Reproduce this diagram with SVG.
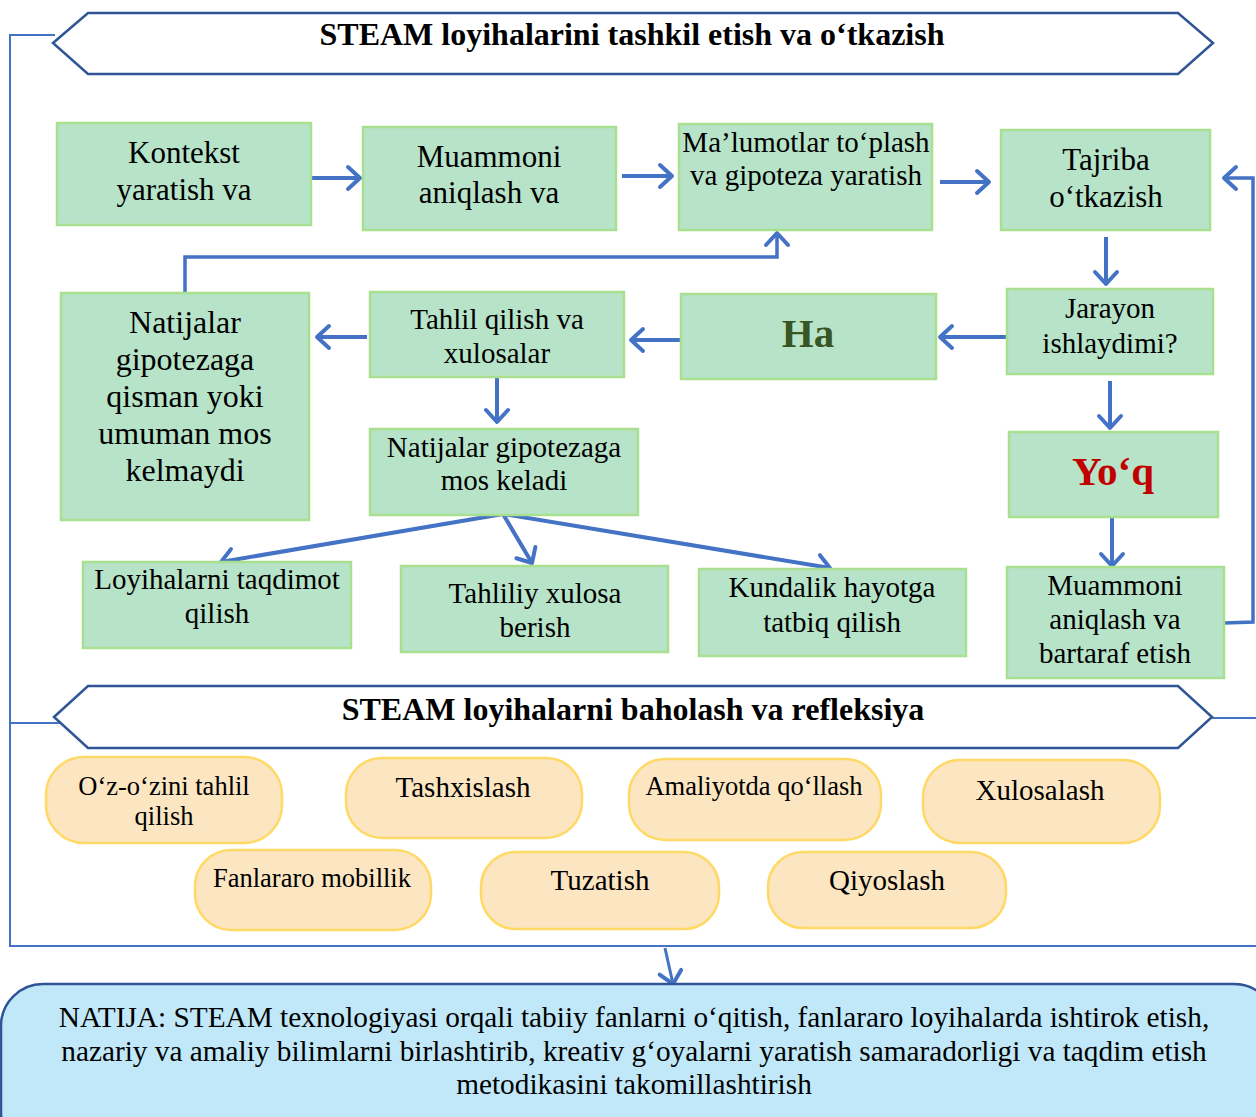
<svg xmlns="http://www.w3.org/2000/svg" width="1256" height="1117" viewBox="0 0 1256 1117">
<defs>
<style>
.box{fill:#B7E3C9;stroke:#A9E08F;stroke-width:2.5}
.pill{fill:#FCE6C2;stroke:#FFD966;stroke-width:2.5}
.banner{fill:#FFFFFF;stroke:#2F5597;stroke-width:2.5}
.t{font-family:"Liberation Serif","Times New Roman",serif;fill:#000;text-anchor:middle}
.title{font-weight:bold;font-size:32px}
.f31{font-size:31px}
.f29{font-size:29px}
.f32{font-size:32px}
.f26{font-size:26.5px}
.big{font-weight:bold;font-size:41px}
.arr{fill:none;stroke:#4472C4;stroke-width:4;marker-end:url(#ah)}
.loop{fill:none;stroke:#4472C4;stroke-width:3.5}
.frame{fill:none;stroke:#4472C4;stroke-width:2}
</style>
<marker id="ah" viewBox="-16 -14 20 28" refX="0" refY="0" markerWidth="20" markerHeight="28" markerUnits="userSpaceOnUse" orient="auto">
<path d="M-12,-11 L0,0 L-12,11" fill="none" stroke="#4472C4" stroke-width="4" stroke-linecap="round" stroke-linejoin="round"/>
</marker>
</defs>
<rect width="1256" height="1117" fill="#FFFFFF"/>

<g id="connectors">
<polyline class="frame" points="55,35 10,35 10,946 1256,946"/>
<line class="frame" x1="10" y1="723" x2="60" y2="723"/>
<line class="frame" x1="1212" y1="718" x2="1256" y2="718"/>
<polyline class="loop" points="1224,623 1253,622 1253,178 1224,178" marker-end="url(#ah)"/>
<polyline class="loop" points="185,293 185,257 777,257 777,233" marker-end="url(#ah)"/>
<line class="arr" x1="311" y1="178" x2="360" y2="178"/>
<line class="arr" x1="622" y1="176" x2="672" y2="176"/>
<line class="arr" x1="940" y1="182" x2="989" y2="182"/>
<line class="arr" x1="1106" y1="237" x2="1106" y2="284"/>
<line class="arr" x1="1007" y1="337" x2="940" y2="337"/>
<line class="arr" x1="680" y1="340" x2="631" y2="340"/>
<line class="arr" x1="367" y1="337" x2="317" y2="337"/>
<line class="arr" x1="1110" y1="381" x2="1110" y2="428"/>
<line class="arr" x1="497" y1="378" x2="497" y2="422"/>
<line class="arr" x1="1112" y1="518" x2="1112" y2="566"/>
<line class="arr" x1="503" y1="514" x2="221" y2="562"/>
<line class="arr" x1="503" y1="514" x2="532" y2="563"/>
<line class="arr" x1="503" y1="514" x2="830" y2="568"/>
<line class="arr" x1="665" y1="948" x2="673" y2="984" style="stroke-width:3"/>
</g>

<g id="banner-top">
<polygon class="banner" points="53,43 88,13 1178,13 1213,43 1178,74 88,74"/>
<text class="t title" x="632" y="45">STEAM loyihalarini tashkil etish va o‘tkazish</text>
</g>

<g id="n-kontekst">
<rect class="box" x="57" y="123" width="254" height="102"/>
<text class="t f31" x="184" y="163">Kontekst</text>
<text class="t f31" x="184" y="200">yaratish va</text>
</g>
<g id="n-muammoni">
<rect class="box" x="363" y="127" width="253" height="103"/>
<text class="t f31" x="489" y="167">Muammoni</text>
<text class="t f31" x="489" y="203">aniqlash va</text>
</g>
<g id="n-malumotlar">
<rect class="box" x="679" y="124" width="253" height="106"/>
<text class="t f29" x="806" y="152">Ma’lumotlar to‘plash</text>
<text class="t f29" x="806" y="185">va gipoteza yaratish</text>
</g>
<g id="n-tajriba">
<rect class="box" x="1001" y="130" width="209" height="100"/>
<text class="t f31" x="1106" y="170">Tajriba</text>
<text class="t f31" x="1106" y="207">o‘tkazish</text>
</g>
<g id="n-natijalar-no">
<rect class="box" x="61" y="293" width="248" height="227"/>
<text class="t f32" x="185" y="333">Natijalar</text>
<text class="t f32" x="185" y="370">gipotezaga</text>
<text class="t f32" x="185" y="407">qisman yoki</text>
<text class="t f32" x="185" y="444">umuman mos</text>
<text class="t f32" x="185" y="481">kelmaydi</text>
</g>
<g id="n-tahlil">
<rect class="box" x="370" y="292" width="254" height="85"/>
<text class="t f29" x="497" y="329">Tahlil qilish va</text>
<text class="t f29" x="497" y="363">xulosalar</text>
</g>
<g id="n-ha">
<rect class="box" x="681" y="294" width="255" height="85"/>
<text class="t big" x="808" y="347" style="fill:#375623">Ha</text>
</g>
<g id="n-jarayon">
<rect class="box" x="1007" y="289" width="206" height="85"/>
<text class="t f29" x="1110" y="318">Jarayon</text>
<text class="t f29" x="1110" y="353">ishlaydimi?</text>
</g>
<g id="n-natijalar-yes">
<rect class="box" x="370" y="429" width="268" height="86"/>
<text class="t f29" x="504" y="457">Natijalar gipotezaga</text>
<text class="t f29" x="504" y="490">mos keladi</text>
</g>
<g id="n-yoq">
<rect class="box" x="1009" y="432" width="209" height="85"/>
<text class="t big" x="1113" y="485" style="fill:#C00000">Yo‘q</text>
</g>
<g id="n-loyihalarni">
<rect class="box" x="83" y="562" width="268" height="86"/>
<text class="t f29" x="217" y="589">Loyihalarni taqdimot</text>
<text class="t f29" x="217" y="623">qilish</text>
</g>
<g id="n-tahliliy">
<rect class="box" x="401" y="566" width="267" height="86"/>
<text class="t f29" x="535" y="603">Tahliliy xulosa</text>
<text class="t f29" x="535" y="637">berish</text>
</g>
<g id="n-kundalik">
<rect class="box" x="699" y="569" width="267" height="87"/>
<text class="t f29" x="832" y="597">Kundalik hayotga</text>
<text class="t f29" x="832" y="632">tatbiq qilish</text>
</g>
<g id="n-muammoni-bartaraf">
<rect class="box" x="1007" y="567" width="217" height="111"/>
<text class="t f29" x="1115" y="595">Muammoni</text>
<text class="t f29" x="1115" y="629">aniqlash va</text>
<text class="t f29" x="1115" y="663">bartaraf etish</text>
</g>

<g id="banner-bottom">
<polygon class="banner" points="54,717 88,686 1178,686 1212,717 1178,748 88,748"/>
<text class="t title" x="633" y="720">STEAM loyihalarni baholash va refleksiya</text>
</g>

<g id="p-ozozini">
<rect class="pill" x="46" y="757" width="236" height="86" rx="38"/>
<text class="t f26" x="164" y="795">O‘z-o‘zini tahlil</text>
<text class="t f26" x="164" y="825">qilish</text>
</g>
<g id="p-tashxislash">
<rect class="pill" x="346" y="758" width="236" height="80" rx="36"/>
<text class="t f29" x="463" y="797">Tashxislash</text>
</g>
<g id="p-amaliyotda">
<rect class="pill" x="629" y="759" width="252" height="81" rx="36"/>
<text class="t f26" x="754" y="795">Amaliyotda qo‘llash</text>
</g>
<g id="p-xulosalash">
<rect class="pill" x="923" y="760" width="237" height="83" rx="37"/>
<text class="t f29" x="1040" y="800">Xulosalash</text>
</g>
<g id="p-fanlararo">
<rect class="pill" x="195" y="850" width="236" height="80" rx="36"/>
<text class="t f26" x="312" y="887">Fanlararo mobillik</text>
</g>
<g id="p-tuzatish">
<rect class="pill" x="481" y="852" width="238" height="77" rx="35"/>
<text class="t f29" x="600" y="890">Tuzatish</text>
</g>
<g id="p-qiyoslash">
<rect class="pill" x="768" y="852" width="238" height="76" rx="35"/>
<text class="t f29" x="887" y="890">Qiyoslash</text>
</g>

<g id="n-natija">
<rect x="1" y="984" width="1275" height="170" rx="42" fill="#C0E8F9" stroke="#2F5597" stroke-width="2.5"/>
<text class="t" x="634" y="1027" style="font-size:29.3px">NATIJA: STEAM texnologiyasi orqali tabiiy fanlarni o‘qitish, fanlararo loyihalarda ishtirok etish,</text>
<text class="t" x="634" y="1061" style="font-size:29.3px">nazariy va amaliy bilimlarni birlashtirib, kreativ g‘oyalarni yaratish samaradorligi va taqdim etish</text>
<text class="t" x="634" y="1094" style="font-size:29.3px">metodikasini takomillashtirish</text>
</g>
</svg>
